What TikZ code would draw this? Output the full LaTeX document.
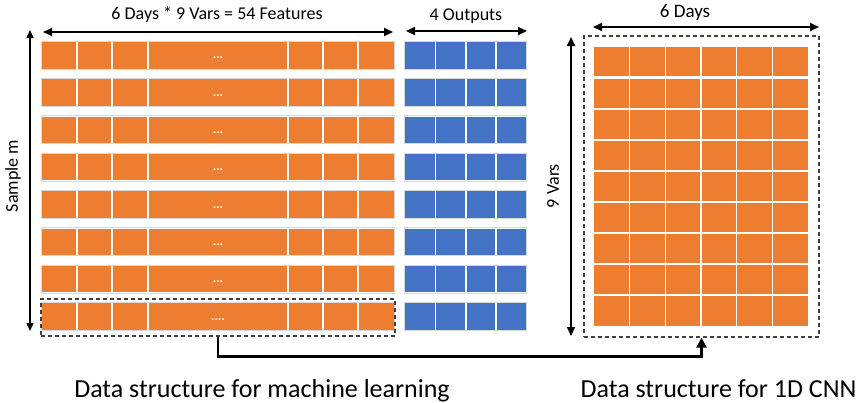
\documentclass[tikz,border=0pt]{standalone}
\usepackage{fontspec}
\setmainfont{Carlito}
\usetikzlibrary{arrows.meta}
\definecolor{orng}{HTML}{ED7D31}
\definecolor{blu}{HTML}{4472C4}
\definecolor{rowedge}{HTML}{D9D9D9}
\definecolor{dashc}{HTML}{404040}
\begin{document}
\begin{tikzpicture}[x=1pt,y=-1pt,
  dim/.style={line width=2pt,{Triangle[length=9pt,width=8pt]}-{Triangle[length=9pt,width=8pt]}},
  thindim/.style={line width=1.4pt,{Triangle[length=8pt,width=7pt]}-{Triangle[length=8pt,width=7pt]}},
  conn/.style={line width=2.8pt,-{Triangle[length=10pt,width=10pt]}},
  sep/.style={white,line width=1.5pt},
  edge/.style={rowedge,line width=1pt},
  dashbox/.style={draw=dashc,line width=1.2pt,dash pattern=on 4pt off 3pt,inner sep=0pt},
  lbl/.style={inner sep=0pt,font=\fontsize{18}{20}\selectfont},
  big/.style={inner sep=0pt,anchor=base,font=\fontsize{26}{28}\selectfont},
  dotlbl/.style={inner sep=0pt,text=white,font=\fontsize{13}{14}\selectfont\bfseries}
]
\useasboundingbox (0,0) rectangle (860,402);
% left rows
\foreach \i in {0,...,7}{
  \pgfmathsetmacro\t{42+37.3*\i}
  \draw[edge] (41.5,{\t-0.7}) rectangle (394.5,{\t+27.2});
  \fill[orng] (42,\t) rectangle (394,{\t+26.5});
  \foreach \xx in {77,112,148,288,323,358}
    \draw[sep] (\xx,\t) -- (\xx,{\t+26.5});
  \draw[edge] (404.5,{\t-0.7}) rectangle (526.5,{\t+27.2});
  \fill[blu] (405,\t) rectangle (526,{\t+26.5});
  \foreach \xx in {435.5,466,496}
    \draw[sep] (\xx,\t) -- (\xx,{\t+26.5});
}
\foreach \i in {0,...,6}{
  \pgfmathsetmacro\t{42+37.3*\i}
  \node[dotlbl] (dots\i) at (218,{\t+16}) {...};
}
\node[dotlbl] (dots7) at (218,319.5) {....};
% dashed boxes
\node[dashbox,minimum width=354pt,minimum height=37pt] (mlbox) at (218,317.5) {};
\node[dashbox,minimum width=235pt,minimum height=301pt] (cnnbox) at (701.5,186.5) {};
% right grid
\fill[orng] (594,47) rectangle (808,326);
\foreach \k in {1,...,5}
  \draw[sep] ({594+35.67*\k},47) -- ({594+35.67*\k},326);
\draw[white,line width=3pt] (594,77) -- (808,77);
\foreach \k in {2,...,8}
  \draw[sep] (594,{47+31*\k}) -- (808,{47+31*\k});
% labels
\node[lbl] (feat) at (217,15) {6 Days * 9 Vars = 54 Features};
\node[lbl] (outs) at (466,16) {4 Outputs};
\node[lbl,font=\fontsize{19}{21}\selectfont] (days) at (685,13) {6 Days};
\node[lbl,rotate=90] (samp) at (13,176) {Sample m};
\node[lbl,rotate=90] (vars) at (553,186) {9 Vars};
\node[big] (mltext) at (262,397) {Data structure for machine learning};
\node[big] (cnntext) at (718.5,397) {Data structure for 1D CNN};
% dimension arrows
\coordinate (fa) at (43,32); \coordinate (fb) at (393,32);
\coordinate (oa) at (406,31); \coordinate (ob) at (527,31);
\coordinate (da) at (593,27); \coordinate (db) at (819,27);
\coordinate (sa) at (30,30); \coordinate (sb) at (30,331);
\coordinate (va) at (571,37); \coordinate (vb) at (571,336);
\draw[dim] (fa) -- (fb);
\draw[dim] (oa) -- (ob);
\draw[dim] (da) -- (db);
\draw[thindim] (sa) -- (sb);
\draw[dim] (va) -- (vb);
% connector
\draw[conn] (mlbox.south) -- ++(0,20) -| (cnnbox.south);
\end{tikzpicture}
\end{document}
